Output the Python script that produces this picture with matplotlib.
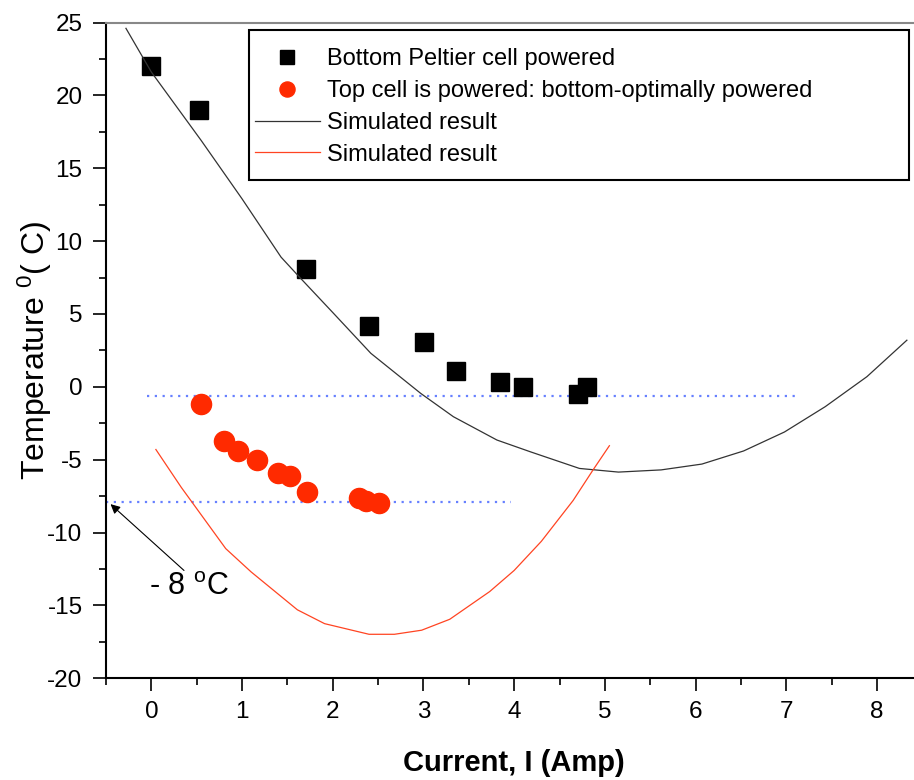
import numpy as np
import matplotlib
matplotlib.use("Agg")
import matplotlib.pyplot as plt
from matplotlib.patches import Rectangle
from matplotlib.ticker import MultipleLocator

plt.rcParams["font.family"] = ["Liberation Sans", "DejaVu Sans"]
plt.rcParams["mathtext.fontset"] = "custom"
plt.rcParams["mathtext.rm"] = "Liberation Sans"
plt.rcParams["mathtext.it"] = "Liberation Sans:italic"
plt.rcParams["mathtext.bf"] = "Liberation Sans:bold"
plt.rcParams["axes.unicode_minus"] = False

# measured points
bottom_I = [0.0, 0.52, 1.70, 2.40, 3.01, 3.36, 3.84, 4.10, 4.70, 4.80]
bottom_T = [22.0, 19.0, 8.1, 4.2, 3.1, 1.1, 0.3, 0.0, -0.5, 0.0]

top_I = [0.55, 0.80, 0.95, 1.16, 1.40, 1.53, 1.72, 2.29, 2.37, 2.51]
top_T = [-1.2, -3.7, -4.4, -5.0, -5.9, -6.15, -7.25, -7.6, -7.8, -8.0]

# simulated curves
sim_bottom_I = [-0.28, 0.0, 0.55, 1.0, 1.43, 1.63, 2.0, 2.42, 2.97, 3.33, 3.81,
                4.18, 4.72, 5.15, 5.62, 6.07, 6.53, 6.98, 7.43, 7.89, 8.33]
sim_bottom_T = [24.6, 21.6, 16.9, 12.9, 8.9, 7.55, 5.1, 2.3, -0.45, -2.05, -3.65,
                -4.46, -5.6, -5.85, -5.7, -5.3, -4.4, -3.1, -1.36, 0.7, 3.2]

sim_top_I = [0.05, 0.33, 0.82, 1.10, 1.61, 1.91, 2.40, 2.68, 2.98, 3.29, 3.73,
             4.00, 4.30, 4.65, 4.87, 5.05]
sim_top_T = [-4.3, -6.9, -11.1, -12.7, -15.3, -16.25, -16.98, -16.98, -16.7, -15.95,
             -14.05, -12.6, -10.6, -7.8, -5.7, -4.04]

# reference levels (dotted)
ref_upper = ([-0.05, 7.1], [-0.6, -0.6])
ref_lower = ([-0.5, 3.97], [-7.9, -7.9])

W, H = 914, 780
fig = plt.figure(figsize=(W / 100, H / 100), dpi=100)
ax = fig.add_axes([106 / W, 1 - 678.3 / H, (922.3 - 106) / W, (678.3 - 22.5) / H])

ax.plot(*ref_upper, ls=(0, (1, 2.5)), color="#3355ff", lw=1.6, alpha=0.75)
ax.plot(*ref_lower, ls=(0, (1, 2.5)), color="#3355ff", lw=1.6, alpha=0.75)

ax.plot(bottom_I, bottom_T, "s", color="black", ms=13.5, ls="none",
        label="Bottom Peltier cell powered")
ax.plot(top_I, top_T, "o", color="#ff2a00", ms=14.5, mec="#ff2a00", ls="none",
        label="Top cell is powered: bottom-optimally powered")
ax.plot(sim_bottom_I, sim_bottom_T, color="#333333", lw=0.9, label="Simulated result")
ax.plot(sim_top_I, sim_top_T, color="#ff4422", lw=0.9, label="Simulated result")

ax.set_xlim(-0.5, 8.5)
ax.set_ylim(-20, 25)
ax.xaxis.set_major_locator(MultipleLocator(1))
ax.xaxis.set_minor_locator(MultipleLocator(0.5))
ax.yaxis.set_major_locator(MultipleLocator(5))
ax.yaxis.set_minor_locator(MultipleLocator(2.5))
ax.tick_params(which="major", direction="out", labelsize=17.5, width=1.2, length=9.4)
ax.tick_params(axis="y", which="major", pad=7.5)
ax.tick_params(axis="x", which="major", pad=7)
ax.tick_params(which="minor", direction="out", length=5, width=1.2)

for s in ("left", "bottom"):
    ax.spines[s].set_linewidth(1.5)
ax.spines["top"].set_color("#888888")
ax.spines["top"].set_linewidth(1.5)
ax.spines["right"].set_visible(False)

ax.set_xlabel("Current, I (Amp)", fontsize=21, fontweight="bold", labelpad=19)
ax.set_ylabel(r"Temperature $^{\mathrm{0}}$( C)", fontsize=23, labelpad=-5)

ax.annotate("", xy=(-0.45, -8.05), xytext=(0.36, -12.6),
            arrowprops=dict(arrowstyle="-|>", color="black", lw=0.8,
                            mutation_scale=14, shrinkA=0, shrinkB=0))
ax.text(0.41, -13.75, r"- 8 $^{\mathrm{o}}$C", fontsize=22, ha="center", va="center")

# legend without its own frame; box drawn separately
leg = ax.legend(loc="upper left", bbox_to_anchor=(255 / W, 1 - 48 / H),
                bbox_transform=fig.transFigure, fontsize=17, frameon=False,
                handlelength=2.75, handletextpad=0.3, labelspacing=0.42,
                borderpad=0, markerscale=0.75, borderaxespad=0)
fig.add_artist(Rectangle((249 / W, 1 - 179.5 / H), 660 / W, 149.5 / H,
                         transform=fig.transFigure, fill=False,
                         edgecolor="black", lw=1.5, zorder=5))

fig.savefig("out.png", dpi=100)
